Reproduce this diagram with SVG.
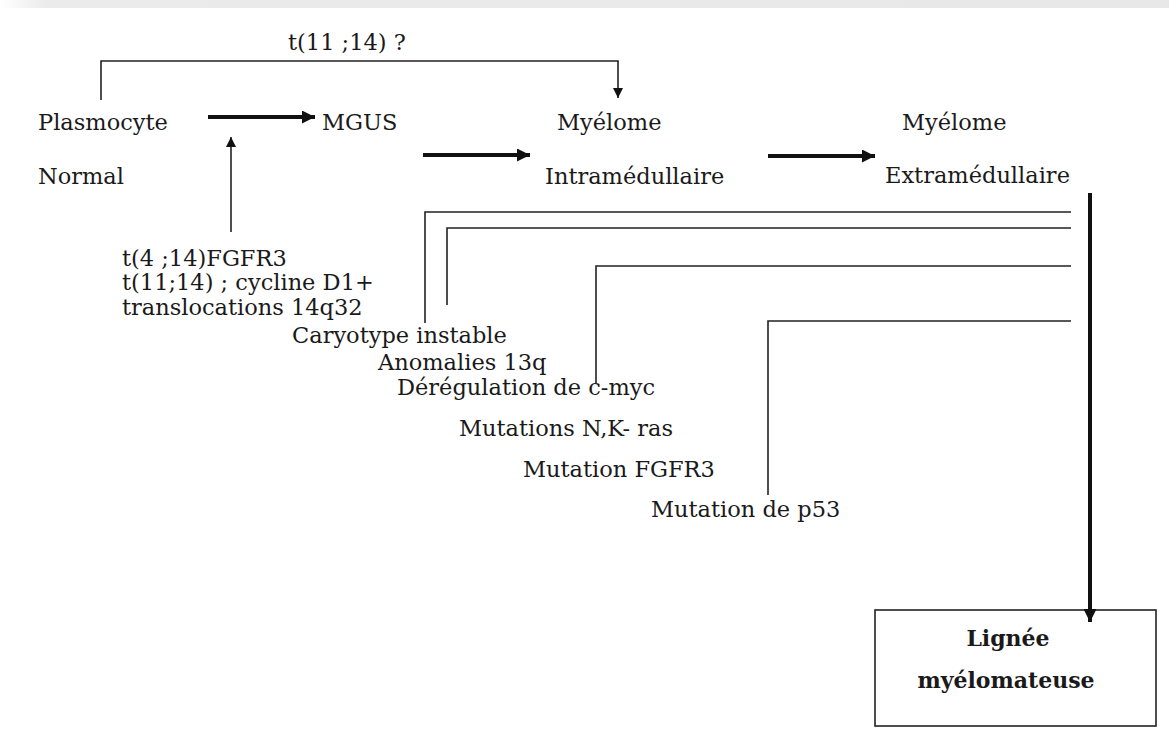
<svg xmlns="http://www.w3.org/2000/svg" width="1169" height="731" viewBox="0 0 1169 731">
<defs>
<linearGradient id="topbar" x1="0" y1="0" x2="1" y2="0">
<stop offset="0" stop-color="#ffffff"/>
<stop offset="0.04" stop-color="#ebebeb"/>
<stop offset="1" stop-color="#e8e8e8"/>
</linearGradient>
<marker id="ah" viewBox="0 0 10 10" refX="10" refY="5" markerWidth="10" markerHeight="11" markerUnits="userSpaceOnUse" orient="auto">
<path d="M0,0 L10,5 L0,10 z" fill="#111"/>
</marker>
<marker id="ahb" viewBox="0 0 10 10" refX="10" refY="5" markerWidth="14" markerHeight="13" markerUnits="userSpaceOnUse" orient="auto">
<path d="M0,0 L10,5 L0,10 z" fill="#111"/>
</marker>
</defs>
<style>
.t{font-family:"DejaVu Serif","Liberation Serif",serif;font-size:22.5px;fill:#1a1a1a}
.b{font-family:"DejaVu Serif","Liberation Serif",serif;font-size:22px;font-weight:bold;fill:#1a1a1a;text-anchor:middle}
.thin{stroke:#222;stroke-width:1.6;fill:none}
.thick{stroke:#111;stroke-width:4;fill:none}
</style>
<rect x="0" y="0" width="1169" height="731" fill="#fff"/>
<rect x="0" y="0" width="1169" height="8" fill="url(#topbar)"/>

<g id="lignee">
<rect x="875" y="610" width="281" height="116" fill="#fff" stroke="#222" stroke-width="1.6"/>
<text class="b" x="1008" y="646">Lignée</text>
<text class="b" x="1006" y="688">myélomateuse</text>
</g>

<g id="connectors">
<path class="thin" d="M101,100 V61 H618 V98" marker-end="url(#ah)"/>
<path class="thick" d="M208,117 H315" marker-end="url(#ahb)"/>
<path class="thin" d="M231,232 V137" marker-end="url(#ah)"/>
<path class="thick" d="M423,155 H530" marker-end="url(#ahb)"/>
<path class="thick" d="M768,156 H875" marker-end="url(#ahb)"/>
<path class="thick" d="M1090,193 V622" marker-end="url(#ahb)"/>
<path class="thin" d="M1071,212 H425 V323"/>
<path class="thin" d="M1071,228 H447 V305"/>
<path class="thin" d="M1071,266 H596 V383"/>
<path class="thin" d="M1071,321 H768 V495"/>
</g>

<g id="label-t1114"><text class="t" x="288" y="50">t(11 ;14) ?</text></g>
<g id="plasmocyte"><text class="t" x="38" y="130">Plasmocyte</text><text class="t" x="38" y="184">Normal</text></g>
<g id="mgus"><text class="t" x="322" y="130">MGUS</text></g>
<g id="myelome-intra"><text class="t" x="557" y="130">Myélome</text><text class="t" x="545" y="184">Intramédullaire</text></g>
<g id="myelome-extra"><text class="t" x="902" y="130">Myélome</text><text class="t" x="885" y="183">Extramédullaire</text></g>
<g id="translocations">
<text class="t" x="122" y="266">t(4 ;14)FGFR3</text>
<text class="t" x="122" y="290">t(11;14) ; cycline D1+</text>
<text class="t" x="122" y="315">translocations 14q32</text>
</g>
<g id="caryotype"><text class="t" x="292" y="343">Caryotype instable</text></g>
<g id="anomalies"><text class="t" x="378" y="370">Anomalies 13q</text></g>
<g id="cmyc"><text class="t" x="397" y="395">Dérégulation de c-myc</text></g>
<g id="ras"><text class="t" x="459" y="436">Mutations N,K- ras</text></g>
<g id="fgfr3"><text class="t" x="523" y="477">Mutation FGFR3</text></g>
<g id="p53"><text class="t" x="651" y="517">Mutation de p53</text></g>
</svg>
